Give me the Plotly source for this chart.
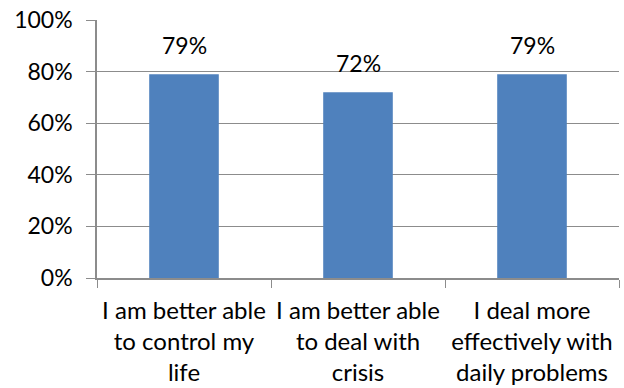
import plotly.graph_objects as go

categories = [
    "I am better able<br>to control my<br>life",
    "I am better able<br>to deal with<br>crisis",
    "I deal more<br>effectively with<br>daily problems",
]
values = [79, 72, 79]
y_ticks = [0, 20, 40, 60, 80, 100]

FONT = "Lato"
GRID = "#8c8c8c"
FS = 23

fig = go.Figure(
    go.Bar(
        x=categories,
        y=values,
        marker=dict(color="#4f81bd", line=dict(width=0)),
        width=0.4,
    )
)

# value labels above each bar
for c, v in zip(categories, values):
    fig.add_annotation(
        x=c, y=v, text=f"{v}%", showarrow=False,
        yanchor="bottom", yshift=13,
        font=dict(family=FONT, size=FS, color="#000000"),
    )

fig.update_layout(
    width=624, height=388,
    margin=dict(l=97, r=5, t=20, b=110),
    paper_bgcolor="white", plot_bgcolor="white",
    showlegend=False,
    bargap=0.6,
)
fig.update_yaxes(
    range=[0, 100], tickvals=y_ticks, ticktext=[f"{t}%" for t in y_ticks],
    showgrid=True, gridcolor=GRID, gridwidth=1.3,
    showline=True, linecolor=GRID, linewidth=1.5,
    ticks="outside", ticklen=9, tickcolor=GRID, tickwidth=1.3,
    ticklabelstandoff=9,
    tickfont=dict(family=FONT, size=FS, color="#000000"),
    zeroline=False, automargin=False,
)
fig.update_xaxes(
    showline=True, linecolor=GRID, linewidth=1.5,
    ticks="outside", ticklen=8, tickcolor=GRID, tickwidth=1.3,
    tickson="boundaries", tickangle=0, automargin=False,
    ticklabelstandoff=10,
    tickfont=dict(family=FONT, size=24, color="#000000"),
)

fig.write_html("out.html")
